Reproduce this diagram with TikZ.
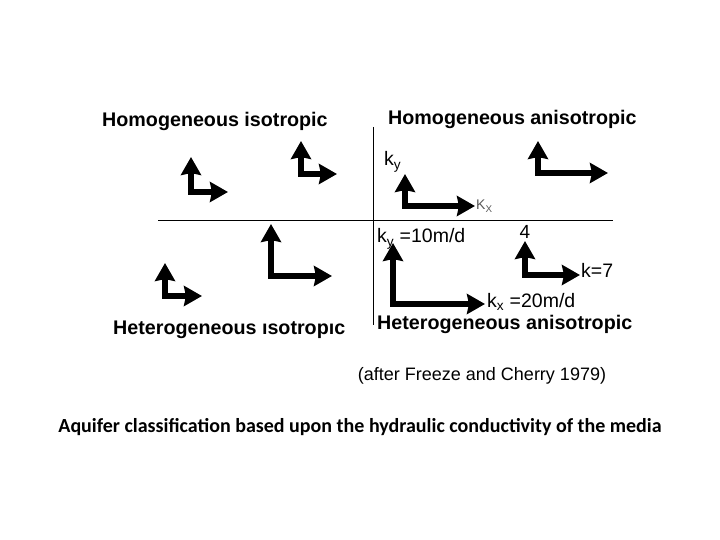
\documentclass[tikz,border=0pt]{standalone}
\usepackage{fontspec}
\setmainfont{Liberation Sans}
\newfontfamily\calibrifont{Carlito}
\usetikzlibrary{arrows.meta}

\begin{document}
\begin{tikzpicture}[x=1pt, y=-1pt,
  kpair/.style={line width=6.5pt, line join=miter,
    {Stealth[length=18pt,width=20pt,inset=2pt]}-{Stealth[length=18pt,width=20pt,inset=2pt]}},
  heading/.style={font=\bfseries\fontsize{19.7}{23}\selectfont, anchor=base west, inner sep=0pt},
  klabel/.style={font=\fontsize{19.5}{22}\selectfont, anchor=base west, inner sep=0pt}]
  \useasboundingbox (0,0) rectangle (720,540);
  % quadrant axes
  \coordinate (west) at (158,221);
  \coordinate (east) at (613,221);
  \coordinate (north) at (373,127);
  \coordinate (south) at (373,325);
  \draw[line width=1pt] (west) -- (east);
  \draw[line width=1pt] (north) -- (south);
  % conductivity arrows: corner x / corner y / tip of k_y / tip of k_x
  \foreach \cx/\cy/\vy/\hx in {191/192/157/228, 301/174/141/337, 271/276/224/332,
      165/296/263/202, 405/206/174/475, 538/173/141/608, 525/275/241/580, 393/304/243/485} {
    \draw[kpair] (\cx,\vy) |- (\hx,\cy);
  }
  % quadrant titles
  \node[heading] (homiso) at (102,127) {Homogeneous isotropic};
  \node[heading] (homaniso) at (388,125) {Homogeneous anisotropic};
  \node[heading] (hetiso) at (113,334) {Heterogeneous ısotropıc};
  \node[heading] (hetaniso) at (377,329) {Heterogeneous anisotropic};
  % arrow labels
  \node[klabel] (kytop) at (384,166) {k\textsubscript{y}};
  \node[klabel, font=\fontsize{14}{16}\selectfont, text=black!65] (kxtop) at (476,210) {K\textsubscript{X}};
  \node[klabel] (kyval) at (377,243) {k\textsubscript{y} =10m/d};
  \node[klabel] (kxval) at (487,307) {k\textsubscript{x} =20m/d};
  \node[klabel, anchor=base, font=\fontsize{19}{21}\selectfont] (kyfour) at (525,239) {4};
  \node[klabel] (kxseven) at (581,277) {k=7};
  % source and caption
  \node[font=\fontsize{18}{21}\selectfont] (source) at (482,376) {(after Freeze and Cherry 1979)};
  \node[font=\calibrifont\bfseries\fontsize{20}{24}\selectfont] (caption) at (360,427)
    {Aquifer classification based upon the hydraulic conductivity of the media};
\end{tikzpicture}
\end{document}
